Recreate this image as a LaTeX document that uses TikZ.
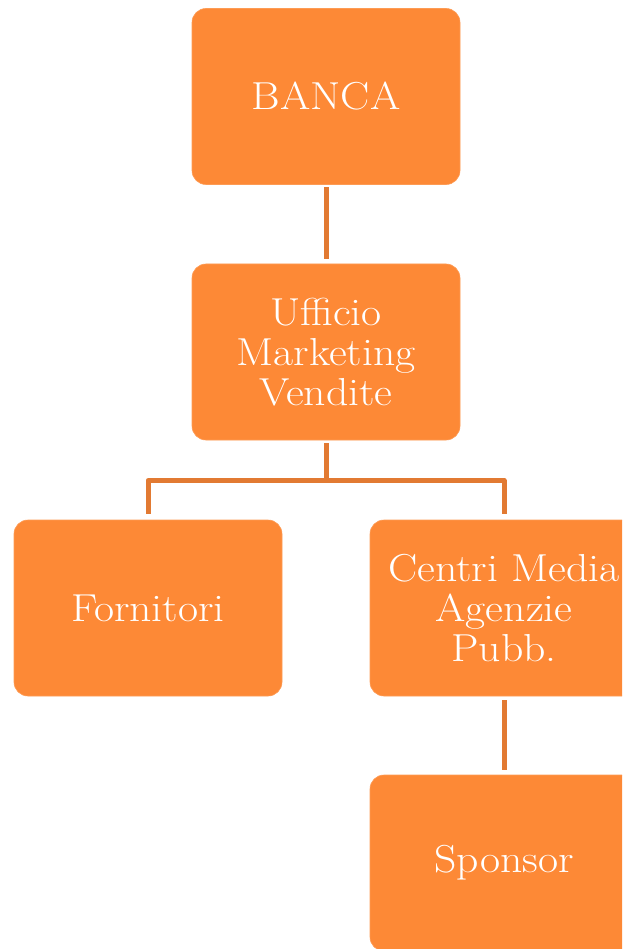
\documentclass[tikz,border=0pt]{standalone}
\usepackage{fontspec}
\setmainfont{Latin Modern Roman}[FakeStretch=1.12]
\definecolor{boxfill}{HTML}{FD8936}
\definecolor{linkc}{HTML}{E27A32}
\begin{document}
\begin{tikzpicture}[x=1pt,y=1pt,
  box/.style={draw=boxfill!85!white, line width=0.6pt, fill=boxfill, rounded corners=14pt,
    minimum width=268pt, minimum height=176pt, inner sep=0pt, align=center,
    text=white, font=\fontsize{39}{40}\selectfont, outer sep=0pt},
  link/.style={draw=linkc, line width=5pt}]
\useasboundingbox (0,0) rectangle (622,-949);
\clip (0,0) rectangle (622,-949);
\node[box] (banca) at (326,-96.5) {BANCA};
\node[box] (uff) at (326,-352) {Ufficio\\Marketing\\Vendite};
\node[box] (forn) at (148,-608) {Fornitori};
\node[box] (centri) at (504,-608) {Centri Media\\Agenzie\\Pubb.};
\node[box] (spons) at (504,-863) {Sponsor};
\draw[link, shorten <=3pt, shorten >=5pt] (banca.south) -- (uff.north);
\coordinate (bar) at (326,-480.5);
\draw[link, shorten <=3pt] (uff.south) -- (bar);
\draw[link, line join=round, shorten >=6pt] (bar) -| (forn.north);
\draw[link, line join=round, shorten >=6pt] (bar) -| (centri.north);
\draw[link, shorten <=4pt, shorten >=5pt] (centri.south) -- (spons.north);
\end{tikzpicture}
\end{document}
